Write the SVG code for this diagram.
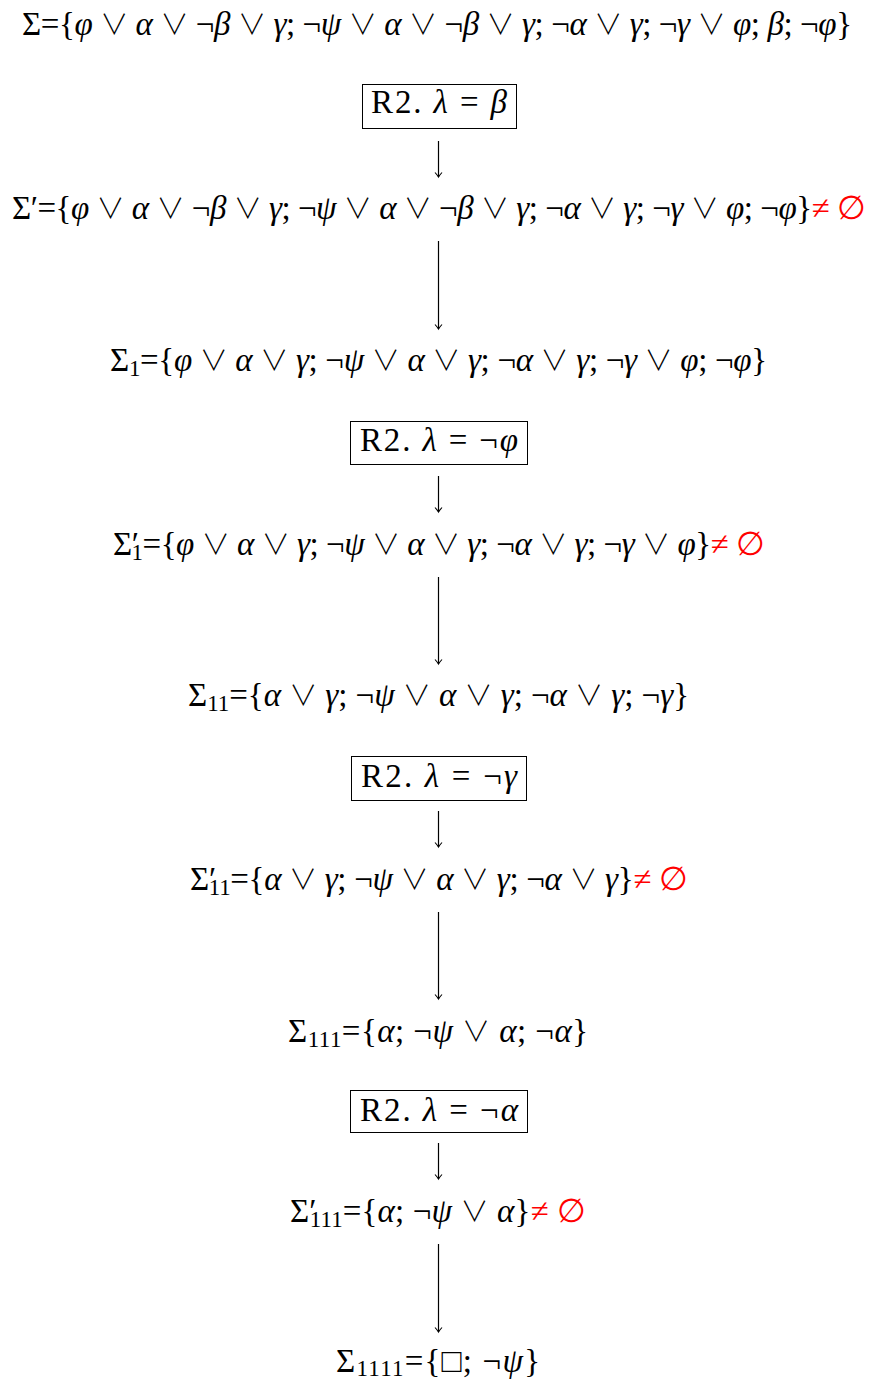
<svg xmlns="http://www.w3.org/2000/svg" width="869" height="1379" viewBox="0 0 869 1379">
<defs>
<style>
.t{font-family:"Liberation Serif","DejaVu Serif",serif;font-size:33px;fill:#000;}
.i{font-style:italic;}
.r{fill:#ff0000;}
.s{font-size:23px;}
.v{font-family:"Noto Sans CJK JP","DejaVu Sans",sans-serif;font-weight:300;font-size:28px;}
.box{fill:none;stroke:#000;stroke-width:1;}
.c{stroke:#000;stroke-width:1.2;fill:none;}
</style>
<marker id="ah" viewBox="-6 -6 12 12" markerWidth="12" markerHeight="12" refX="0" refY="0" orient="auto" markerUnits="userSpaceOnUse">
<path d="M-4.5,-3.5 Q-1.5,-0.8 0,0 Q-1.5,0.8 -4.5,3.5" fill="none" stroke="#000" stroke-width="1.1"/>
</marker>
</defs>
<rect width="869" height="1379" fill="#fff"/>

<g id="sigma">
<text class="t" x="437" y="35" text-anchor="middle" textLength="830" lengthAdjust="spacing">Σ={<tspan class="i">φ</tspan> <tspan class="v">∨</tspan> <tspan class="i">α</tspan> <tspan class="v">∨</tspan> ¬<tspan class="i">β</tspan> <tspan class="v">∨</tspan> <tspan class="i">γ</tspan>; ¬<tspan class="i">ψ</tspan> <tspan class="v">∨</tspan> <tspan class="i">α</tspan> <tspan class="v">∨</tspan> ¬<tspan class="i">β</tspan> <tspan class="v">∨</tspan> <tspan class="i">γ</tspan>; ¬<tspan class="i">α</tspan> <tspan class="v">∨</tspan> <tspan class="i">γ</tspan>; ¬<tspan class="i">γ</tspan> <tspan class="v">∨</tspan> <tspan class="i">φ</tspan>; <tspan class="i">β</tspan>; ¬<tspan class="i">φ</tspan>}</text>
</g>

<g id="rule1">
<rect class="box" x="362.5" y="84.5" width="154" height="44"/>
<text class="t" x="439" y="113" text-anchor="middle" textLength="136" lengthAdjust="spacing">R2. <tspan class="i">λ</tspan> = <tspan class="i">β</tspan></text>
</g>

<g id="sigma-prime">
<text class="t" x="439" y="219" text-anchor="middle" textLength="854" lengthAdjust="spacing">Σ′={<tspan class="i">φ</tspan> <tspan class="v">∨</tspan> <tspan class="i">α</tspan> <tspan class="v">∨</tspan> ¬<tspan class="i">β</tspan> <tspan class="v">∨</tspan> <tspan class="i">γ</tspan>; ¬<tspan class="i">ψ</tspan> <tspan class="v">∨</tspan> <tspan class="i">α</tspan> <tspan class="v">∨</tspan> ¬<tspan class="i">β</tspan> <tspan class="v">∨</tspan> <tspan class="i">γ</tspan>; ¬<tspan class="i">α</tspan> <tspan class="v">∨</tspan> <tspan class="i">γ</tspan>; ¬<tspan class="i">γ</tspan> <tspan class="v">∨</tspan> <tspan class="i">φ</tspan>; ¬<tspan class="i">φ</tspan>}<tspan class="r">≠ ∅</tspan></text>
</g>

<g id="sigma1">
<text class="t" x="438.5" y="371" text-anchor="middle" textLength="657" lengthAdjust="spacing">Σ<tspan class="s" dy="5">1</tspan><tspan dy="-5">={</tspan><tspan class="i">φ</tspan> <tspan class="v">∨</tspan> <tspan class="i">α</tspan> <tspan class="v">∨</tspan> <tspan class="i">γ</tspan>; ¬<tspan class="i">ψ</tspan> <tspan class="v">∨</tspan> <tspan class="i">α</tspan> <tspan class="v">∨</tspan> <tspan class="i">γ</tspan>; ¬<tspan class="i">α</tspan> <tspan class="v">∨</tspan> <tspan class="i">γ</tspan>; ¬<tspan class="i">γ</tspan> <tspan class="v">∨</tspan> <tspan class="i">φ</tspan>; ¬<tspan class="i">φ</tspan>}</text>
</g>

<g id="rule2">
<rect class="box" x="350.5" y="421.5" width="177" height="43"/>
<text class="t" x="439" y="451" text-anchor="middle" textLength="158" lengthAdjust="spacing">R2. <tspan class="i">λ</tspan> = ¬<tspan class="i">φ</tspan></text>
</g>

<g id="sigma1-prime">
<text class="t" x="439" y="555" text-anchor="middle" textLength="652" lengthAdjust="spacing">Σ′<tspan class="s" dx="-7" dy="5">1</tspan><tspan dy="-5">={</tspan><tspan class="i">φ</tspan> <tspan class="v">∨</tspan> <tspan class="i">α</tspan> <tspan class="v">∨</tspan> <tspan class="i">γ</tspan>; ¬<tspan class="i">ψ</tspan> <tspan class="v">∨</tspan> <tspan class="i">α</tspan> <tspan class="v">∨</tspan> <tspan class="i">γ</tspan>; ¬<tspan class="i">α</tspan> <tspan class="v">∨</tspan> <tspan class="i">γ</tspan>; ¬<tspan class="i">γ</tspan> <tspan class="v">∨</tspan> <tspan class="i">φ</tspan>}<tspan class="r">≠ ∅</tspan></text>
</g>

<g id="sigma11">
<text class="t" x="438.5" y="706" text-anchor="middle" textLength="501" lengthAdjust="spacing">Σ<tspan class="s" dy="5">11</tspan><tspan dy="-5">={</tspan><tspan class="i">α</tspan> <tspan class="v">∨</tspan> <tspan class="i">γ</tspan>; ¬<tspan class="i">ψ</tspan> <tspan class="v">∨</tspan> <tspan class="i">α</tspan> <tspan class="v">∨</tspan> <tspan class="i">γ</tspan>; ¬<tspan class="i">α</tspan> <tspan class="v">∨</tspan> <tspan class="i">γ</tspan>; ¬<tspan class="i">γ</tspan>}</text>
</g>

<g id="rule3">
<rect class="box" x="351.5" y="756.5" width="175" height="44"/>
<text class="t" x="439" y="787" text-anchor="middle" textLength="156" lengthAdjust="spacing">R2. <tspan class="i">λ</tspan> = ¬<tspan class="i">γ</tspan></text>
</g>

<g id="sigma11-prime">
<text class="t" x="439" y="890" text-anchor="middle" textLength="498" lengthAdjust="spacing">Σ′<tspan class="s" dx="-7" dy="5">11</tspan><tspan dy="-5">={</tspan><tspan class="i">α</tspan> <tspan class="v">∨</tspan> <tspan class="i">γ</tspan>; ¬<tspan class="i">ψ</tspan> <tspan class="v">∨</tspan> <tspan class="i">α</tspan> <tspan class="v">∨</tspan> <tspan class="i">γ</tspan>; ¬<tspan class="i">α</tspan> <tspan class="v">∨</tspan> <tspan class="i">γ</tspan>}<tspan class="r">≠ ∅</tspan></text>
</g>

<g id="sigma111">
<text class="t" x="438" y="1042" text-anchor="middle" textLength="300" lengthAdjust="spacing">Σ<tspan class="s" dy="5">111</tspan><tspan dy="-5">={</tspan><tspan class="i">α</tspan>; ¬<tspan class="i">ψ</tspan> <tspan class="v">∨</tspan> <tspan class="i">α</tspan>; ¬<tspan class="i">α</tspan>}</text>
</g>

<g id="rule4">
<rect class="box" x="350.5" y="1090.5" width="177" height="42"/>
<text class="t" x="439" y="1121" text-anchor="middle" textLength="158" lengthAdjust="spacing">R2. <tspan class="i">λ</tspan> = ¬<tspan class="i">α</tspan></text>
</g>

<g id="sigma111-prime">
<text class="t" x="438" y="1222" text-anchor="middle" textLength="296" lengthAdjust="spacing">Σ′<tspan class="s" dx="-7" dy="5">111</tspan><tspan dy="-5">={</tspan><tspan class="i">α</tspan>; ¬<tspan class="i">ψ</tspan> <tspan class="v">∨</tspan> <tspan class="i">α</tspan>}<tspan class="r">≠ ∅</tspan></text>
</g>

<g id="sigma1111">
<text class="t" x="438" y="1372" text-anchor="middle" textLength="204" lengthAdjust="spacing">Σ<tspan class="s" dy="4">1111</tspan><tspan dy="-4">={□; ¬</tspan><tspan class="i">ψ</tspan>}</text>
</g>

<g id="connectors">
<line class="c" x1="438.5" y1="141" x2="438.5" y2="177" marker-end="url(#ah)"/>
<line class="c" x1="438.5" y1="241" x2="438.5" y2="329" marker-end="url(#ah)"/>
<line class="c" x1="438.5" y1="476" x2="438.5" y2="512" marker-end="url(#ah)"/>
<line class="c" x1="438.5" y1="577" x2="438.5" y2="664" marker-end="url(#ah)"/>
<line class="c" x1="438.5" y1="811" x2="438.5" y2="847" marker-end="url(#ah)"/>
<line class="c" x1="438.5" y1="912" x2="438.5" y2="999" marker-end="url(#ah)"/>
<line class="c" x1="438.5" y1="1143" x2="438.5" y2="1179" marker-end="url(#ah)"/>
<line class="c" x1="438.5" y1="1244" x2="438.5" y2="1332" marker-end="url(#ah)"/>
</g>
</svg>
